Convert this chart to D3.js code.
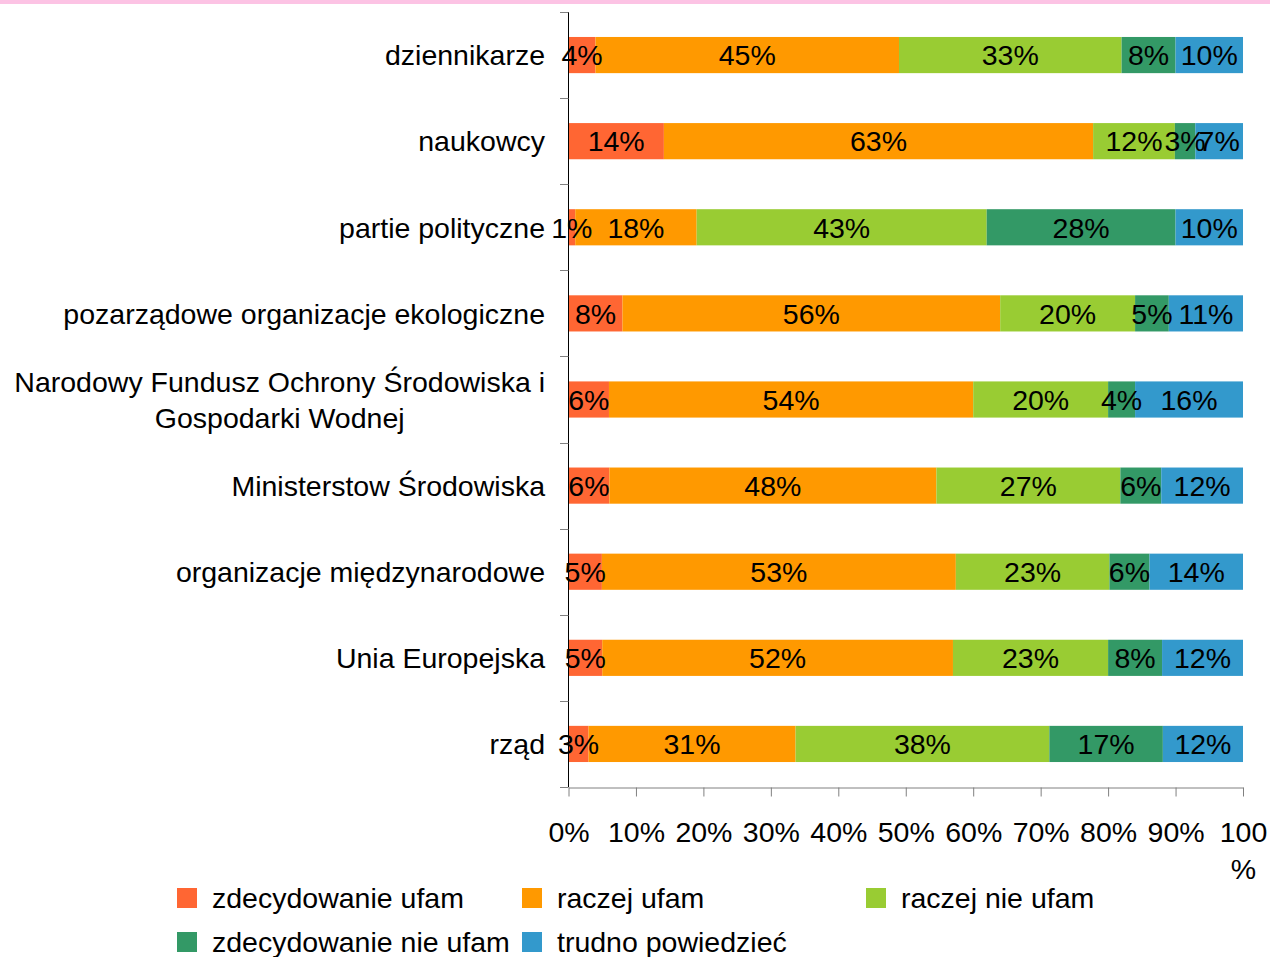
<!DOCTYPE html>
<html>
<head>
<meta charset="utf-8">
<script src="https://cdn.jsdelivr.net/npm/d3@7"></script>
<style>
  body { margin: 0; background: #fff; }
  svg { display: block; font-family: "Liberation Sans", Arial, sans-serif; }
</style>
</head>
<body>
<svg id="chart" width="1270" height="957"></svg>
<script>
// categories, top to bottom
const categories = [
    'dziennikarze',
    'naukowcy',
    'partie polityczne',
    'pozarządowe organizacje ekologiczne',
    'Narodowy Fundusz Ochrony Środowiska i\nGospodarki Wodnej',
    'Ministerstow Środowiska',
    'organizacje międzynarodowe',
    'Unia Europejska',
    'rząd'
];

const seriesNames = ['zdecydowanie ufam', 'raczej ufam', 'raczej nie ufam', 'zdecydowanie nie ufam', 'trudno powiedzieć'];
const seriesKeys = ['s1', 's2', 's3', 's4', 's5'];
const seriesColors = ['#ff6633', '#ff9900', '#99cc33', '#339966', '#3399cc'];

// values per series, in category order
const zdecydowanieUfam    = [4, 14, 1, 8, 6, 6, 5, 5, 3];
const raczejUfam          = [45, 63, 18, 56, 54, 48, 53, 52, 31];
const raczejNieUfam       = [33, 12, 43, 20, 20, 27, 23, 23, 38];
const zdecydowanieNieUfam = [8, 3, 28, 5, 4, 6, 6, 8, 17];
const trudnoPowiedziec    = [10, 7, 10, 11, 16, 12, 14, 12, 12];

const xTicks = [0, 0.1, 0.2, 0.3, 0.4, 0.5, 0.6, 0.7, 0.8, 0.9, 1];

const rows = categories.map((c, i) => ({
    cat: c,
    s1: zdecydowanieUfam[i],
    s2: raczejUfam[i],
    s3: raczejNieUfam[i],
    s4: zdecydowanieNieUfam[i],
    s5: trudnoPowiedziec[i]
}));

const svg = d3.select('#chart');
const fontSize = 28.5;

// pink strip along the top
svg.append('rect')
    .attr('x', 0).attr('y', 0)
    .attr('width', 1270).attr('height', 4)
    .attr('fill', '#fcc3e4');

const x = d3.scaleLinear().domain([0, 1]).range([568.5, 1243]);
const y = d3.scaleBand()
    .domain(categories)
    .range([12, 787])
    .paddingInner(0.58)
    .paddingOuter(0.29);

const stack = d3.stack().keys(seriesKeys).offset(d3.stackOffsetExpand);
const stacked = stack(rows);

const layer = svg.append('g')
    .selectAll('g')
    .data(stacked)
    .enter()
    .append('g')
        .attr('fill', (d, i) => seriesColors[i]);

layer.selectAll('rect')
    .data(d => d)
    .enter()
    .append('rect')
        .attr('x', d => x(d[0]))
        .attr('y', d => y(d.data.cat))
        .attr('width', d => x(d[1]) - x(d[0]))
        .attr('height', y.bandwidth());

// value labels centred in each segment
const labels = svg.append('g')
    .attr('font-size', fontSize)
    .attr('fill', '#000')
    .attr('text-anchor', 'middle');

stacked.forEach(s => {
    s.forEach(d => {
        labels.append('text')
            .attr('x', (x(d[0]) + x(d[1])) / 2)
            .attr('y', y(d.data.cat) + y.bandwidth() / 2)
            .attr('dy', '0.36em')
            .text(d.data[s.key] + '%');
    });
});

// left axis: line + ticks at band boundaries
const yAxis = svg.append('g');
const step = y.step();
const y0 = y.range()[0];
yAxis.append('line')
    .attr('x1', 568.5).attr('x2', 568.5)
    .attr('y1', y0).attr('y2', y.range()[1])
    .attr('stroke', '#000');
yAxis.selectAll('line.tick')
    .data(d3.range(categories.length + 1))
    .enter()
    .append('line')
        .attr('class', 'tick')
        .attr('x1', 560).attr('x2', 568.5)
        .attr('y1', i => Math.round(y0 + i * step) + 0.5)
        .attr('y2', i => Math.round(y0 + i * step) + 0.5)
        .attr('stroke', '#808080');

// category labels (multi-line ones centred as a block)
const catLabels = svg.append('g')
    .attr('font-size', fontSize)
    .attr('fill', '#000');

categories.forEach(c => {
    const lines = c.split('\n');
    const cy = y(c) + y.bandwidth() / 2;
    const t = catLabels.append('text');
    if (lines.length === 1) {
        t.attr('x', 545).attr('y', cy).attr('dy', '0.36em')
            .attr('text-anchor', 'end')
            .text(c);
    } else {
        t.attr('text-anchor', 'middle');
        lines.forEach((ln, k) => {
            t.append('tspan')
                .attr('y', cy + (k - (lines.length - 1) / 2) * 36)
                .attr('dy', '0.36em')
                .text(ln);
        });
        let w = 0;
        t.selectAll('tspan').each(function() { w = Math.max(w, this.getComputedTextLength()); });
        t.selectAll('tspan').attr('x', 545 - w / 2);
    }
});

// bottom axis
const xAxis = svg.append('g')
    .attr('transform', 'translate(0,787.5)')
    .call(d3.axisBottom(x).tickValues(xTicks).tickFormat(d3.format('.0%')).tickSize(9).tickSizeOuter(0));

xAxis.select('.domain').attr('stroke', '#808080');
xAxis.selectAll('.tick line').attr('stroke', '#808080');
xAxis.selectAll('.tick text')
    .attr('font-size', fontSize)
    .attr('font-family', '"Liberation Sans", Arial, sans-serif')
    .attr('fill', '#000')
    .attr('y', 34)
    .attr('dy', '0.71em');

// the last label wraps in the original
xAxis.selectAll('.tick text')
    .filter(d => d === 1)
    .text(null)
    .call(t => {
        t.append('tspan').attr('x', 0).text('100');
        t.append('tspan').attr('x', 0).attr('dy', '1.3em').text('%');
    });

// legend
const legendPos = [[177, 888], [522, 888], [866, 888], [177, 932], [522, 932]];
const legend = svg.append('g')
    .selectAll('g')
    .data(seriesNames)
    .enter()
    .append('g')
        .attr('transform', (d, i) => `translate(${legendPos[i][0]},${legendPos[i][1]})`);

legend.append('rect')
    .attr('width', 20)
    .attr('height', 20)
    .attr('fill', (d, i) => seriesColors[i]);

legend.append('text')
    .attr('x', 35)
    .attr('y', 10)
    .attr('dy', '0.36em')
    .attr('font-size', fontSize)
    .attr('fill', '#000')
    .text(d => d);
</script>
</body>
</html>
